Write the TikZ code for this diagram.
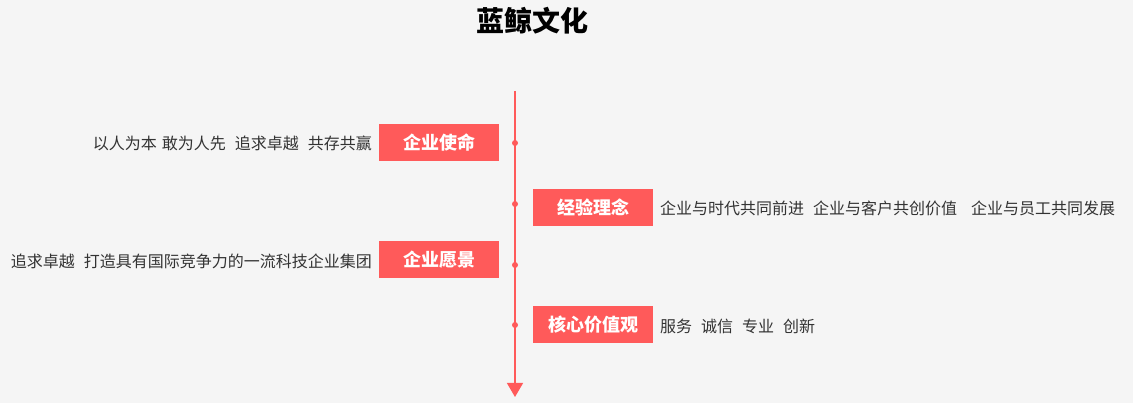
\documentclass[tikz,border=0pt]{standalone}
\usepackage{fontspec}
\setmainfont{Noto Sans CJK SC}
\usetikzlibrary{arrows.meta}
\definecolor{bg}{HTML}{F5F5F5}
\definecolor{accent}{HTML}{FF5A5A}
\definecolor{txt}{HTML}{333333}
\begin{document}
\begin{tikzpicture}[x=1pt,y=-1pt,
  labelbox/.style={fill=accent,text=white,minimum width=120pt,minimum height=37pt,inner sep=0pt,font=\fontsize{18pt}{20pt}\selectfont\bfseries},
  desc/.style={text=txt,inner sep=0pt,font=\fontsize{16pt}{18pt}\selectfont},
  dotmark/.style={circle,fill=accent,minimum size=6pt,inner sep=0pt},
  axis/.style={draw=accent,line width=1.3pt}]
\fill[bg] (0,0) rectangle (1133,403);
\useasboundingbox (0,0) rectangle (1133,403);
\node[font=\fontsize{28pt}{30pt}\selectfont\bfseries,inner sep=0pt] (title) at (532,21) {蓝鲸文化};
\coordinate (top) at (515,91);
\coordinate (bottom) at (515,397);
\draw[axis,-{Triangle[length=14pt,width=16pt]}] (top) -- (bottom);
\node[dotmark] (d1) at (515,143) {};
\node[dotmark] (d2) at (515,204) {};
\node[dotmark] (d3) at (515,265) {};
\node[dotmark] (d4) at (515,325) {};
\node[labelbox] (b1) at (439,142.5) {企业使命};
\node[labelbox] (b2) at (593,207.5) {经验理念};
\node[labelbox] (b3) at (439,259.5) {企业愿景};
\node[labelbox] (b4) at (593,324.5) {核心价值观};
\node[desc,anchor=east] (t1) at (372,143) {以人为本\hspace{5pt}敢为人先\hspace{9pt}追求卓越\hspace{9pt}共存共赢};
\node[desc,anchor=west] (t2) at (660,208) {企业与时代共同前进\hspace{9pt}企业与客户共创价值\hspace{14pt}企业与员工共同发展};
\node[desc,anchor=east] (t3) at (372,261) {追求卓越\hspace{9pt}打造具有国际竞争力的一流科技企业集团};
\node[desc,anchor=west] (t4) at (660,326) {服务\hspace{9pt}诚信\hspace{9pt}专业\hspace{9pt}创新};
\end{tikzpicture}
\end{document}
